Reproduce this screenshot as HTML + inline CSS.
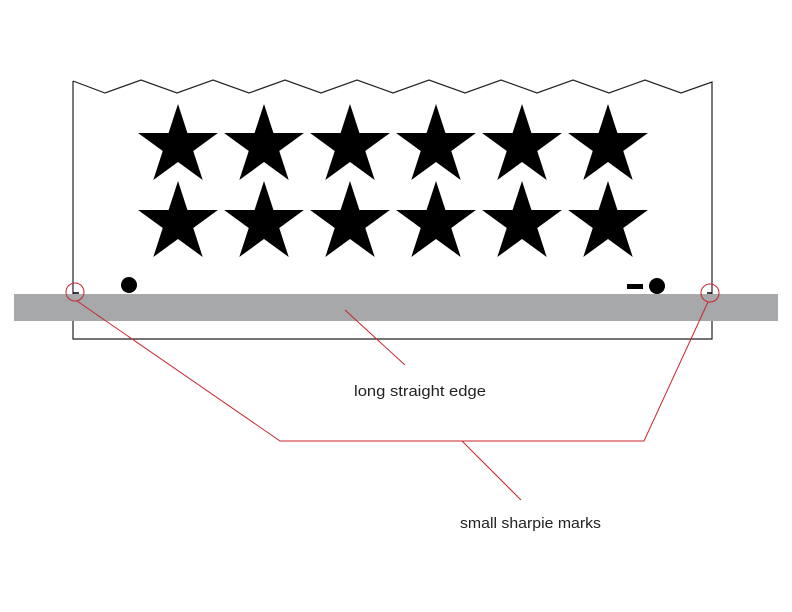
<!DOCTYPE html>
<html><head><meta charset="utf-8"><style>
html,body{margin:0;padding:0;background:#fff;}
svg{display:block;}
text{font-family:"Liberation Sans",sans-serif;font-size:15px;fill:#222;}
</style></head><body>
<svg width="792" height="612" viewBox="0 0 792 612" xmlns="http://www.w3.org/2000/svg">
<defs>
<polygon id="st" points="0,-42 9.43,-12.98 39.94,-12.98 15.26,4.96 24.69,33.98 0,16.04 -24.69,33.98 -15.26,4.96 -39.94,-12.98 -9.43,-12.98"/>
</defs>
<polyline fill="none" stroke="#222" stroke-width="1.2" points="73,81 105,93 141,80 177,93 213,80 249,93 285,80 321,93 357,80 393,93 429,80 465,93 501,80 537,93 573,80 609,93 645,80 681,93 712,82 712,339 73,339 73,81"/>
<g fill="#000">
<use href="#st" x="178" y="146"/><use href="#st" x="264" y="146"/><use href="#st" x="350" y="146"/><use href="#st" x="436" y="146"/><use href="#st" x="522" y="146"/><use href="#st" x="608" y="146"/>
<use href="#st" x="178" y="223"/><use href="#st" x="264" y="223"/><use href="#st" x="350" y="223"/><use href="#st" x="436" y="223"/><use href="#st" x="522" y="223"/><use href="#st" x="608" y="223"/>
<circle cx="129" cy="285" r="8"/><circle cx="657" cy="286" r="8"/>
<rect x="627" y="284" width="16" height="5"/>
</g>
<rect x="14" y="294" width="764" height="27" fill="#a7a8aa"/>
<line x1="73" y1="293" x2="79" y2="293" stroke="#000" stroke-width="1.5"/>
<line x1="707" y1="293" x2="712" y2="293" stroke="#000" stroke-width="1.5"/>
<g fill="none" stroke="#c8262c" stroke-width="1">
<circle cx="75" cy="292" r="9"/>
<circle cx="710" cy="293" r="9"/>
<polyline points="77,301 280,441 644,441 708,302"/>
<line x1="462" y1="441" x2="521" y2="500"/>
<line x1="345" y1="310" x2="405" y2="365"/>
</g>
<text x="354" y="396" textLength="132" lengthAdjust="spacingAndGlyphs">long straight edge</text>
<text x="460" y="528" textLength="141" lengthAdjust="spacingAndGlyphs">small sharpie marks</text>
</svg>
</body></html>
